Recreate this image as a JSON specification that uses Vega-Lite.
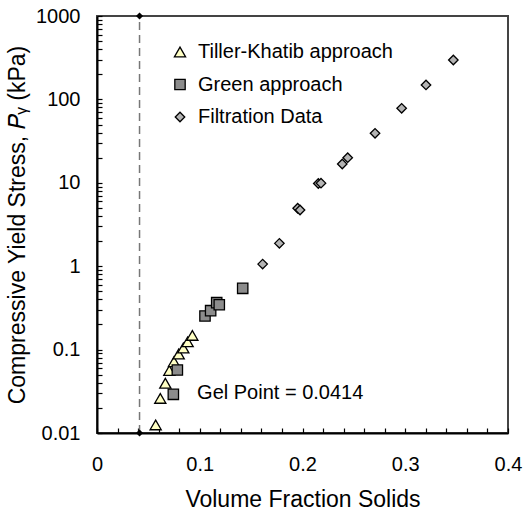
{
  "$schema": "https://vega.github.io/schema/vega-lite/v6.json",
  "width": 411,
  "height": 417,
  "autosize": {"type": "none"},
  "padding": {"left": 97, "top": 16, "right": 15, "bottom": 77},
  "background": "white",
  "config": {
    "font": "Liberation Sans",
    "view": {"stroke": "#444444", "strokeWidth": 2},
    "axis": {
      "grid": false,
      "domainColor": "black",
      "domainWidth": 2,
      "tickColor": "black",
      "tickWidth": 1.2,
      "tickSize": -5,
      "labelColor": "black",
      "labelFontSize": 20,
      "labelFont": "Liberation Sans",
      "titleColor": "black",
      "titleFontSize": 23,
      "titleFontWeight": "normal",
      "titleFont": "Liberation Sans",
      "labelBound": false
    },
    "legend": {
      "orient": "none", "legendX": 73, "legendY": 26, "title": null,
      "labelFontSize": 20, "labelColor": "black", "labelFont": "Liberation Sans", "labelLimit": 400,
      "symbolStrokeWidth": 1.3, "rowPadding": 12.5, "labelOffset": 8, "padding": 0
    }
  },
  "resolve": {"axis": {"x": "independent"}},
  "datasets": {
    "points": [
      {"series": "Tiller-Khatib approach", "x": 0.0571, "y": 0.0125},
      {"series": "Tiller-Khatib approach", "x": 0.0616, "y": 0.026},
      {"series": "Tiller-Khatib approach", "x": 0.0665, "y": 0.0395},
      {"series": "Tiller-Khatib approach", "x": 0.0704, "y": 0.056},
      {"series": "Tiller-Khatib approach", "x": 0.0749, "y": 0.0716},
      {"series": "Tiller-Khatib approach", "x": 0.0795, "y": 0.0886},
      {"series": "Tiller-Khatib approach", "x": 0.084, "y": 0.1045},
      {"series": "Tiller-Khatib approach", "x": 0.0882, "y": 0.124},
      {"series": "Tiller-Khatib approach", "x": 0.0928, "y": 0.148},
      {"series": "Green approach", "x": 0.0743, "y": 0.0291},
      {"series": "Green approach", "x": 0.0782, "y": 0.0569},
      {"series": "Green approach", "x": 0.1051, "y": 0.253},
      {"series": "Green approach", "x": 0.1106, "y": 0.293},
      {"series": "Green approach", "x": 0.1165, "y": 0.365},
      {"series": "Green approach", "x": 0.119, "y": 0.345},
      {"series": "Green approach", "x": 0.1418, "y": 0.543},
      {"series": "Filtration Data", "x": 0.1612, "y": 1.06},
      {"series": "Filtration Data", "x": 0.1775, "y": 1.88},
      {"series": "Filtration Data", "x": 0.1953, "y": 4.95},
      {"series": "Filtration Data", "x": 0.1976, "y": 4.72},
      {"series": "Filtration Data", "x": 0.2154, "y": 9.8},
      {"series": "Filtration Data", "x": 0.218, "y": 9.9},
      {"series": "Filtration Data", "x": 0.2387, "y": 16.8},
      {"series": "Filtration Data", "x": 0.244, "y": 20.0},
      {"series": "Filtration Data", "x": 0.2706, "y": 39.2},
      {"series": "Filtration Data", "x": 0.2965, "y": 78.2},
      {"series": "Filtration Data", "x": 0.3202, "y": 149},
      {"series": "Filtration Data", "x": 0.3468, "y": 297}
    ],
    "gelLine": [{"x": 0.0414, "y": 0.01, "y2": 1000}],
    "gelEnds": [{"x": 0.0414, "y": 0.01}, {"x": 0.0414, "y": 1000}],
    "gelText": [{"x": 0.0974, "y": 0.03, "label": "Gel Point = 0.0414"}]
  },
  "layer": [
    {
      "data": {"name": "gelLine"},
      "mark": {"type": "rule", "color": "#777777", "strokeWidth": 1.5, "strokeDash": [8, 5]},
      "encoding": {
        "x": {"field": "x", "type": "quantitative", "scale": {"domain": [0, 0.4], "nice": false, "zero": false},
          "axis": {
            "orient": "bottom",
            "title": "Volume Fraction Solids",
            "values": [0, 0.1, 0.2, 0.3, 0.4],
            "labelExpr": "datum.value < 0.001 ? '0' : format(datum.value, '.1f')",
            "labelOverlap": false,
            "labelFlush": false,
            "labelPadding": 26,
            "titlePadding": 14
          }},
        "y": {"field": "y", "type": "quantitative", "scale": {"type": "log", "domain": [0.01, 1000], "nice": false},
          "axis": {
            "title": "Compressive Yield Stress, 𝑃ᵧ (kPa)",
            "values": [0.01, 0.02, 0.03, 0.04, 0.05, 0.06, 0.07, 0.08, 0.09, 0.1, 0.2, 0.3, 0.4, 0.5, 0.6, 0.7, 0.8, 0.9, 1, 2, 3, 4, 5, 6, 7, 8, 9, 10, 20, 30, 40, 50, 60, 70, 80, 90, 100, 200, 300, 400, 500, 600, 700, 800, 900, 1000],
            "labelExpr": "abs(log(datum.value)/LN10 - round(log(datum.value)/LN10)) < 0.0001 ? format(datum.value, '~g') : ''",
            "labelOverlap": false,
            "labelFlush": false,
            "labelPadding": 22,
            "titlePadding": 6
          }},
        "y2": {"field": "y2"}
      }
    },
    {
      "data": {"name": "gelEnds"},
      "mark": {"type": "point", "shape": "diamond", "filled": true, "color": "black", "size": 50, "opacity": 1},
      "encoding": {
        "x": {"field": "x", "type": "quantitative",
          "axis": {
            "orient": "bottom",
            "title": null,
            "labels": false,
            "domain": false,
            "values": [0.02, 0.04, 0.06, 0.08, 0.12, 0.14, 0.16, 0.18, 0.22, 0.24, 0.26, 0.28, 0.32, 0.34, 0.36, 0.38]
          }},
        "y": {"field": "y", "type": "quantitative"}
      }
    },
    {
      "data": {"name": "points"},
      "mark": {"type": "point", "filled": true, "strokeWidth": 1.3, "opacity": 1},
      "encoding": {
        "x": {"field": "x", "type": "quantitative", "axis": null},
        "y": {"field": "y", "type": "quantitative"},
        "size": {"field": "series", "type": "nominal",
          "scale": {"domain": ["Tiller-Khatib approach", "Green approach", "Filtration Data"], "range": [125, 90, 90]}},
        "shape": {"field": "series", "type": "nominal",
          "scale": {"domain": ["Tiller-Khatib approach", "Green approach", "Filtration Data"], "range": ["triangle-up", "square", "diamond"]}},
        "fill": {"field": "series", "type": "nominal",
          "scale": {"domain": ["Tiller-Khatib approach", "Green approach", "Filtration Data"], "range": ["#ffffc4", "#8c8c8c", "#b4b4b4"]}},
        "stroke": {"field": "series", "type": "nominal",
          "scale": {"domain": ["Tiller-Khatib approach", "Green approach", "Filtration Data"], "range": ["#000000", "#000000", "#000000"]}}
      }
    },
    {
      "data": {"name": "gelText"},
      "mark": {"type": "text", "align": "left", "baseline": "middle", "fontSize": 20, "color": "black", "font": "Liberation Sans"},
      "encoding": {
        "x": {"field": "x", "type": "quantitative", "axis": null},
        "y": {"field": "y", "type": "quantitative"},
        "text": {"field": "label"}
      }
    }
  ]
}
